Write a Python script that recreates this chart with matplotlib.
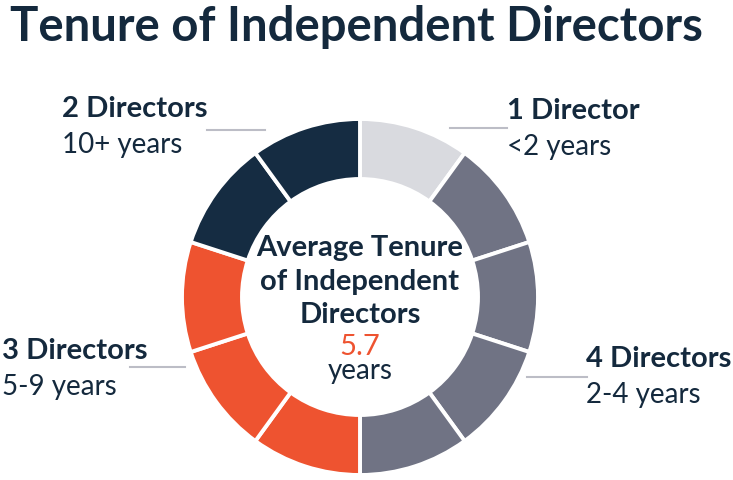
import numpy as np
import matplotlib.pyplot as plt

plt.rcParams['font.family'] = ['Lato', 'DejaVu Sans']

# data
groups = ['1 Director', '4 Directors', '3 Directors', '2 Directors']
tenure = ['<2 years', '2-4 years', '5-9 years', '10+ years']
counts = [1, 4, 3, 2]
colors = ['#d9dadf', '#707384', '#ee5330', '#152c42']
avg_tenure = 5.7

navy = '#14293d'

fig = plt.figure(figsize=(7.33, 4.8), dpi=100)
ax = fig.add_axes([0, 0, 1, 1])

# one slice per director
slice_colors = np.repeat(colors, counts)
ax.pie(np.ones(sum(counts)), colors=slice_colors, startangle=90, counterclock=False,
       center=(360, 183), radius=178,
       wedgeprops=dict(width=60, edgecolor='white', linewidth=2.8))
ax.set_xlim(0, 733)
ax.set_ylim(0, 480)
ax.set_aspect('equal')
ax.axis('off')

def Y(y):
    return 480 - y

ax.text(10, Y(41), 'Tenure of Independent Directors', fontsize=34, fontweight='bold',
        color=navy, va='baseline')

# labels: (x, baseline y of bold line)
label_pos = [(507, 119), (586, 367), (2, 359), (62, 117)]
lines = [((450, 507), 128), ((527, 587), 377), ((130, 185), 367), ((207, 265), 130)]
for g, t, (x, y), (lx, ly) in zip(groups, tenure, label_pos, lines):
    ax.text(x, Y(y), g, fontsize=21, fontweight='bold', color=navy, va='baseline')
    ax.text(x, Y(y + 36), t, fontsize=20, color=navy, va='baseline')
    ax.plot(lx, [Y(ly), Y(ly)], color='#bcbdc6', lw=1.5)

# centre text
for s, y in zip(['Average Tenure', 'of Independent', 'Directors'], [256, 290, 323]):
    ax.text(360, Y(y), s, fontsize=21, fontweight='bold', color=navy, ha='center', va='baseline')
ax.text(360, Y(355), f'{avg_tenure}', fontsize=21, color='#ee5330', ha='center', va='baseline')
ax.text(360, Y(379), 'years', fontsize=20, color=navy, ha='center', va='baseline')

plt.savefig('out.png', dpi=100)
